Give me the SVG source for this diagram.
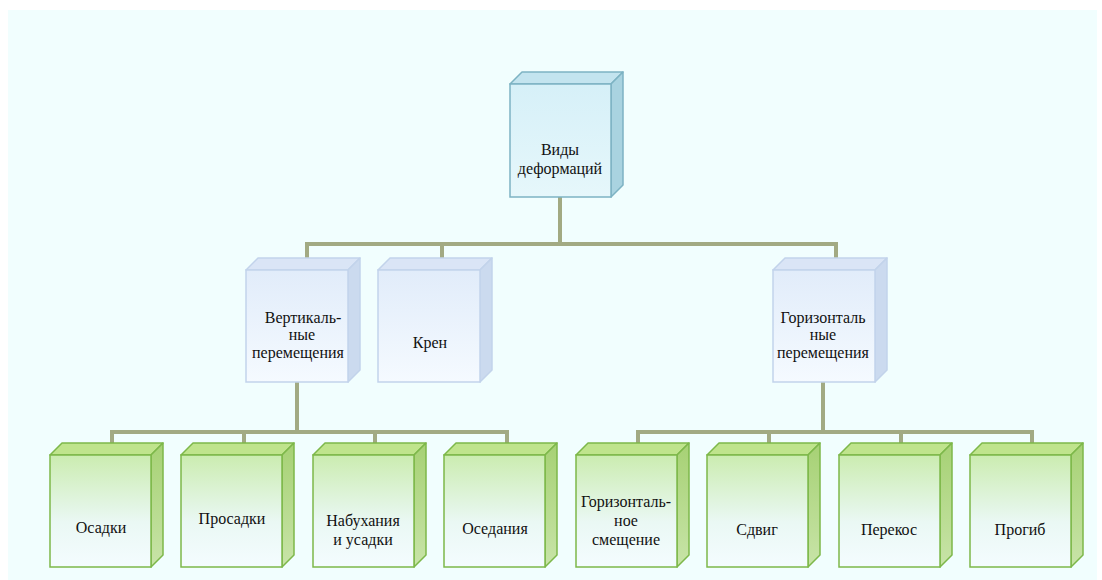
<svg xmlns="http://www.w3.org/2000/svg" width="1102" height="580" viewBox="0 0 1102 580">
  <defs>
    <linearGradient id="gBlueFront" x1="0" y1="0" x2="0" y2="1">
      <stop offset="0" stop-color="#D6F0F8"/>
      <stop offset="1" stop-color="#E6F7FB"/>
    </linearGradient>
    <linearGradient id="gLavFront" x1="0" y1="0" x2="0" y2="1">
      <stop offset="0" stop-color="#E1ECFA"/>
      <stop offset="1" stop-color="#F5FAFF"/>
    </linearGradient>
    <linearGradient id="gGreenFront" x1="0" y1="0" x2="0" y2="1">
      <stop offset="0" stop-color="#CBECB0"/>
      <stop offset="0.6" stop-color="#EAF8F4"/>
      <stop offset="1" stop-color="#F4FCFF"/>
    </linearGradient>
    <linearGradient id="gGreenSide" x1="0" y1="0" x2="0" y2="1">
      <stop offset="0" stop-color="#A6D174"/>
      <stop offset="1" stop-color="#C8E4A8"/>
    </linearGradient>
  </defs>
  <style>
    .conn { fill: none; stroke: #A2AA83; stroke-width: 4; stroke-linejoin: miter; stroke-linecap: square; }
    .bF { fill: url(#gBlueFront); stroke: #7DB3C3; stroke-width: 1.5; }
    .bT { fill: #C3E4EF; stroke: #7DB3C3; stroke-width: 1.5; stroke-linejoin: round; }
    .bS { fill: #A9D3E0; stroke: #7DB3C3; stroke-width: 1.5; stroke-linejoin: round; }
    .lF { fill: url(#gLavFront); stroke: #C2D3EB; stroke-width: 1.5; }
    .lT { fill: #DAE5F6; stroke: #C2D3EB; stroke-width: 1.5; stroke-linejoin: round; }
    .lS { fill: #CBDAEF; stroke: #C2D3EB; stroke-width: 1.5; stroke-linejoin: round; }
    .gF { fill: url(#gGreenFront); stroke: #7DB84A; stroke-width: 1.5; }
    .gT { fill: #BFE48C; stroke: #7DB84A; stroke-width: 1.5; stroke-linejoin: round; }
    .gS { fill: url(#gGreenSide); stroke: #7DB84A; stroke-width: 1.5; stroke-linejoin: round; }
    text { font-family: "Liberation Serif", "Times New Roman", serif; font-size: 16px; fill: #111; text-anchor: middle; }
  </style>

  <rect x="8" y="10" width="1089" height="570" fill="#F1FEFE"/>

  <g id="connectors">
    <polyline class="conn" points="560,197 560,244"/>
    <polyline class="conn" points="307,258 307,244 836,244 836,257"/>
    <polyline class="conn" points="442,244 442,258"/>
    <polyline class="conn" points="297,382 297,432"/>
    <polyline class="conn" points="112,443 112,432 507,432 507,443"/>
    <polyline class="conn" points="244,432 244,443"/>
    <polyline class="conn" points="375,432 375,443"/>
    <polyline class="conn" points="823,382 823,432"/>
    <polyline class="conn" points="638,443 638,432 1032,432 1032,443"/>
    <polyline class="conn" points="769,432 769,443"/>
    <polyline class="conn" points="901,432 901,443"/>
  </g>

  <g id="node-root">
    <polygon class="bT" points="510,84 522,72 623,72 611,84"/>
    <polygon class="bS" points="611,84 623,72 623,185 611,197"/>
    <rect class="bF" x="510" y="84" width="101" height="113"/>
    <text x="560" y="155">Виды</text>
    <text x="560" y="174">деформаций</text>
  </g>

  <g id="node-vert">
    <polygon class="lT" points="246,270 258,258 360,258 348,270"/>
    <polygon class="lS" points="348,270 360,258 360,370 348,382"/>
    <rect class="lF" x="246" y="270" width="102" height="112"/>
    <text x="303" y="323">Вертикаль-</text>
    <text x="302" y="340">ные</text>
    <text x="298" y="358">перемещения</text>
  </g>

  <g id="node-kren">
    <polygon class="lT" points="378,270 390,258 492,258 480,270"/>
    <polygon class="lS" points="480,270 492,258 492,370 480,382"/>
    <rect class="lF" x="378" y="270" width="102" height="112"/>
    <text x="430" y="348">Крен</text>
  </g>

  <g id="node-horiz">
    <polygon class="lT" points="773,270 785,258 887,258 875,270"/>
    <polygon class="lS" points="875,270 887,258 887,370 875,382"/>
    <rect class="lF" x="773" y="270" width="102" height="112"/>
    <text x="823" y="323">Горизонталь</text>
    <text x="823" y="340">ные</text>
    <text x="823" y="358">перемещения</text>
  </g>

  <g id="node-osadki">
    <polygon class="gT" points="50,455 62,443 163,443 151,455"/>
    <polygon class="gS" points="151,455 163,443 163,555 151,567"/>
    <rect class="gF" x="50" y="455" width="101" height="112"/>
    <text x="101" y="533">Осадки</text>
  </g>

  <g id="node-prosadki">
    <polygon class="gT" points="181,455 193,443 294,443 282,455"/>
    <polygon class="gS" points="282,455 294,443 294,555 282,567"/>
    <rect class="gF" x="181" y="455" width="101" height="112"/>
    <text x="232" y="524">Просадки</text>
  </g>

  <g id="node-nabuh">
    <polygon class="gT" points="313,455 325,443 426,443 414,455"/>
    <polygon class="gS" points="414,455 426,443 426,555 414,567"/>
    <rect class="gF" x="313" y="455" width="101" height="112"/>
    <text x="363" y="526">Набухания</text>
    <text x="363" y="545">и усадки</text>
  </g>

  <g id="node-osed">
    <polygon class="gT" points="444,455 456,443 557,443 545,455"/>
    <polygon class="gS" points="545,455 557,443 557,555 545,567"/>
    <rect class="gF" x="444" y="455" width="101" height="112"/>
    <text x="495" y="534">Оседания</text>
  </g>

  <g id="node-gsm">
    <polygon class="gT" points="576,455 588,443 689,443 677,455"/>
    <polygon class="gS" points="677,455 689,443 689,555 677,567"/>
    <rect class="gF" x="576" y="455" width="101" height="112"/>
    <text x="626" y="507">Горизонталь-</text>
    <text x="626" y="526">ное</text>
    <text x="626" y="545">смещение</text>
  </g>

  <g id="node-sdvig">
    <polygon class="gT" points="707,455 719,443 820,443 808,455"/>
    <polygon class="gS" points="808,455 820,443 820,555 808,567"/>
    <rect class="gF" x="707" y="455" width="101" height="112"/>
    <text x="757" y="535">Сдвиг</text>
  </g>

  <g id="node-perekos">
    <polygon class="gT" points="839,455 851,443 952,443 940,455"/>
    <polygon class="gS" points="940,455 952,443 952,555 940,567"/>
    <rect class="gF" x="839" y="455" width="101" height="112"/>
    <text x="889" y="535">Перекос</text>
  </g>

  <g id="node-progib">
    <polygon class="gT" points="970,455 982,443 1083,443 1071,455"/>
    <polygon class="gS" points="1071,455 1083,443 1083,555 1071,567"/>
    <rect class="gF" x="970" y="455" width="101" height="112"/>
    <text x="1020" y="535">Прогиб</text>
  </g>
</svg>
